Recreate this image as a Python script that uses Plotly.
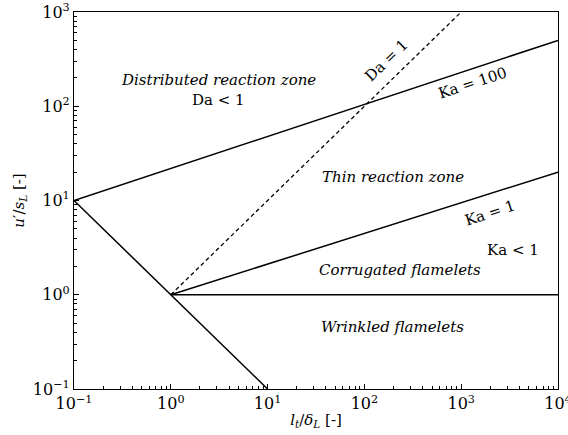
import math
import plotly.graph_objects as go

# Regime boundaries of the premixed turbulent combustion diagram (log-log)
re_x = [0.1, 1, 10]
re_y = [10, 1, 0.1]

ka100_x = [0.1, 1e4]
ka100_y = [10, 500]

ka1_x = [1, 1e4]
ka1_y = [1, 20]

da1_x = [1, 1e3]
da1_y = [1, 1e3]

unity_x = [1, 1e4]
unity_y = [1, 1]

x_ticks = [0.1, 1, 10, 100, 1000, 10000]
x_ticktext = ["10<sup>−1</sup>", "10<sup>0</sup>", "10<sup>1</sup>", "10<sup>2</sup>", "10<sup>3</sup>", "10<sup>4</sup>"]
y_ticks = [0.1, 1, 10, 100, 1000]
y_ticktext = ["10<sup>−1</sup>", "10<sup>0</sup>", "10<sup>1</sup>", "10<sup>2</sup>", "10<sup>3</sup>"]

FONT = "DejaVu Serif, serif"
FS = 15

fig = go.Figure()
line = dict(color="black", width=1.5)
for xs, ys in [(re_x, re_y), (ka100_x, ka100_y), (ka1_x, ka1_y), (unity_x, unity_y)]:
    fig.add_trace(go.Scatter(x=xs, y=ys, mode="lines", line=line, showlegend=False, hoverinfo="skip"))
fig.add_trace(go.Scatter(x=da1_x, y=da1_y, mode="lines",
                         line=dict(color="black", width=1.3, dash="4px,3px"),
                         showlegend=False, hoverinfo="skip"))


def minor_vals(lo, hi):
    vals = []
    for e in range(lo, hi):
        for k in range(2, 10):
            vals.append(k * 10 ** e)
    return vals


# Region labels (positions in data units, converted to log10 for annotations)
labels = [
    ("<i>Distributed reaction zone</i>", 3.08, 190, 0),
    ("Da < 1", 3.08, 117, 0),
    ("Da = 1", 171, 309, -44),
    ("Ka = 100", 1318, 178, -18),
    ("<i>Thin reaction zone</i>", 197, 17.8, 0),
    ("Ka = 1", 1995, 7.4, -18),
    ("Ka < 1", 3430, 3.0, 0),
    ("<i>Corrugated flamelets</i>", 233, 1.84, 0),
    ("<i>Wrinkled flamelets</i>", 197, 0.457, 0),
]
for text, x, y, ang in labels:
    fig.add_annotation(x=math.log10(x), y=math.log10(y), text=text, showarrow=False,
                       textangle=ang, font=dict(family=FONT, size=FS, color="black"),
                       xanchor="center", yanchor="middle")

axis_common = dict(
    type="log", showgrid=False, zeroline=False, automargin=False,
    showline=True, linecolor="black", linewidth=1.2, mirror=True,
    ticks="inside", ticklen=5, tickwidth=1, tickcolor="black",
    tickfont=dict(family=FONT, size=16, color="black"),
    tickmode="array", ticklabeloverflow="allow",
)

fig.update_xaxes(
    **axis_common, range=[-1.00001, 4.00001], tickvals=x_ticks, ticktext=x_ticktext,
    minor=dict(ticks="inside", ticklen=3, tickwidth=1, tickcolor="black",
               tickmode="array", tickvals=minor_vals(-1, 4), showgrid=False),
    title=dict(text="<i>l<sub>t</sub></i>/<i>δ<sub>L</sub></i> [-]",
               font=dict(family=FONT, size=FS, color="black"), standoff=2),
)
fig.update_yaxes(
    **axis_common, range=[-1.00001, 3.00001], tickvals=y_ticks, ticktext=y_ticktext,
    minor=dict(ticks="inside", ticklen=3, tickwidth=1, tickcolor="black",
               tickmode="array", tickvals=minor_vals(-1, 3), showgrid=False),
    title=dict(text="<i>u</i>′/<i>s<sub>L</sub></i> [-]",
               font=dict(family=FONT, size=FS, color="black"), standoff=4),
)

fig.update_layout(
    width=568, height=435,
    margin=dict(l=74, r=10, t=12, b=46),
    plot_bgcolor="white", paper_bgcolor="white",
)

fig.write_html("out.html")
